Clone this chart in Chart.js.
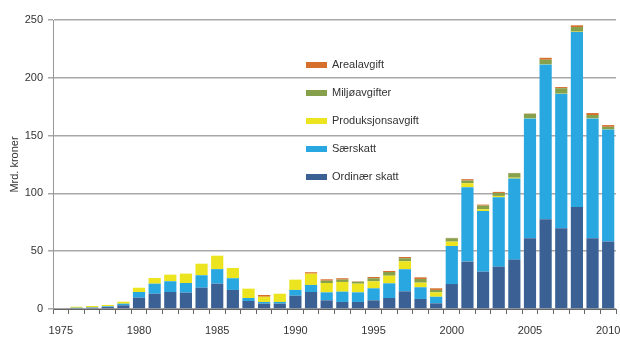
<!DOCTYPE html>
<html>
<head>
<meta charset="utf-8">
<script src="https://cdn.jsdelivr.net/npm/chart.js@4/dist/chart.umd.min.js"></script>
<style>
  html, body { margin: 0; padding: 0; background: #fff; }
  #wrap { width: 620px; height: 352px; }
</style>
</head>
<body>
<div id="wrap"><canvas id="grafico"></canvas></div>
<script>
// Data (Mrd. kroner)
const aar = ['1975','1976','1977','1978','1979','1980','1981','1982','1983','1984','1985','1986','1987','1988','1989','1990','1991','1992','1993','1994','1995','1996','1997','1998','1999','2000','2001','2002','2003','2004','2005','2006','2007','2008','2009','2010'];

const ordinaerSkatt = [0, 0.8, 1.1, 1.7, 3.2, 9.8, 13.2, 14.7, 14.1, 18.4, 21.9, 16.5, 6.9, 4.6, 4.6, 11.5, 14.7, 7.5, 6.1, 6.1, 7.5, 9.5, 15.3, 8.7, 4.9, 21.6, 41.0, 32.3, 36.6, 42.7, 61.2, 77.6, 69.9, 88.3, 61.2, 58.3];
const saerskatt = [0, 0.3, 0.3, 0.6, 1.4, 4.9, 8.7, 9.3, 8.4, 10.8, 12.6, 10.1, 2.6, 1.5, 1.5, 5.0, 6.1, 6.9, 8.9, 8.3, 10.4, 12.7, 19.1, 10.1, 5.7, 32.9, 64.4, 52.5, 60.1, 70.1, 103.6, 133.9, 116.2, 151.3, 103.6, 96.9];
const produksjonsavgift = [0, 0.9, 1.2, 1.2, 1.7, 3.7, 4.9, 5.7, 8.1, 10.0, 11.6, 8.9, 8.1, 4.5, 7.1, 8.9, 9.8, 8.1, 8.4, 7.5, 6.1, 6.6, 6.9, 4.0, 3.8, 3.8, 3.4, 1.5, 1.1, 0.8, 0.3, 0.3, 0.3, 0.3, 0.3, 0.2];
const miljoavgifter = [0, 0, 0, 0, 0, 0, 0, 0, 0, 0, 0, 0, 0, 0, 0, 0, 0, 2.0, 2.0, 1.7, 2.6, 3.2, 2.6, 3.2, 2.1, 2.9, 2.3, 3.1, 2.6, 3.9, 3.8, 3.8, 4.6, 4.0, 2.7, 2.2];
const arealavgift = [0, 0, 0, 0, 0, 0, 0, 0, 0, 0, 0, 0, 0, 1.5, 0, 0, 1.2, 1.2, 1.2, 0.3, 1.1, 0.9, 1.1, 1.4, 1.4, 0.3, 1.2, 0.9, 0.9, 0.2, 0.2, 1.7, 1.0, 1.5, 1.7, 1.5];

const yTicks = [0, 50, 100, 150, 200, 250];

const farger = {
  ordinaer: '#3a6094',
  saer: '#29a7e1',
  prod: '#ece41e',
  miljo: '#86a04c',
  areal: '#d66e2c'
};

Chart.defaults.font.family = '"Liberation Sans", Arial, sans-serif';
Chart.defaults.font.size = 11;
Chart.defaults.color = '#333';

// Legend drawn inside the plot area, top to bottom in reverse stacking order
const legendePlugin = {
  id: 'legendeMidt',
  afterDraw(chart) {
    const ctx = chart.ctx;
    const ds = chart.data.datasets.slice().reverse();
    ctx.save();
    ctx.font = '11px "Liberation Sans", Arial, sans-serif';
    ctx.textBaseline = 'middle';
    ds.forEach((d, i) => {
      const y = 65 + i * 28;
      ctx.fillStyle = d.backgroundColor;
      ctx.fillRect(306, y - 3, 21, 6);
      ctx.fillStyle = '#333';
      ctx.fillText(d.label, 332, y);
    });
    ctx.restore();
  }
};

const lerret = document.getElementById('grafico');
new Chart(lerret, {
  type: 'bar',
  data: {
    labels: aar,
    datasets: [
      { label: 'Ordinær skatt', data: ordinaerSkatt, backgroundColor: farger.ordinaer },
      { label: 'Særskatt', data: saerskatt, backgroundColor: farger.saer },
      { label: 'Produksjonsavgift', data: produksjonsavgift, backgroundColor: farger.prod },
      { label: 'Miljøavgifter', data: miljoavgifter, backgroundColor: farger.miljo },
      { label: 'Arealavgift', data: arealavgift, backgroundColor: farger.areal }
    ]
  },
  options: {
    responsive: true,
    maintainAspectRatio: false,
    animation: false,
    layout: { padding: { left: 8, right: 4, top: 20, bottom: 0 } },
    datasets: {
      bar: { barPercentage: 0.78, categoryPercentage: 1, borderWidth: 0 }
    },
    plugins: {
      legend: { display: false },
      tooltip: { enabled: false }
    },
    scales: {
      x: {
        stacked: true,
        offset: true,
        afterFit: (scale) => {
          scale.height = 43;
          scale.paddingLeft = 0;
          scale.paddingRight = 0;
        },
        grid: {
          offset: true,
          drawOnChartArea: false,
          drawTicks: true,
          tickLength: 5,
          color: '#666'
        },
        border: { display: true, color: '#666', width: 1 },
        ticks: {
          autoSkip: false,
          maxRotation: 0,
          padding: 10,
          color: '#333',
          callback: function (value) {
            const lbl = this.getLabelForValue(value);
            return Number(lbl) % 5 === 0 ? lbl : '';
          }
        }
      },
      y: {
        stacked: true,
        min: 0,
        max: 250,
        afterFit: (scale) => { scale.width = 45; },
        afterBuildTicks: (scale) => { scale.ticks = yTicks.map(v => ({ value: v })); },
        grid: {
          color: '#a8a8a8',
          lineWidth: 1.5,
          tickLength: 5
        },
        border: { display: true, color: '#999', width: 1 },
        ticks: { padding: 5, color: '#333' },
        title: {
          display: true,
          text: 'Mrd. kroner',
          color: '#333',
          padding: 0,
          font: { size: 11 }
        }
      }
    }
  },
  plugins: [legendePlugin]
});
</script>
</body>
</html>
